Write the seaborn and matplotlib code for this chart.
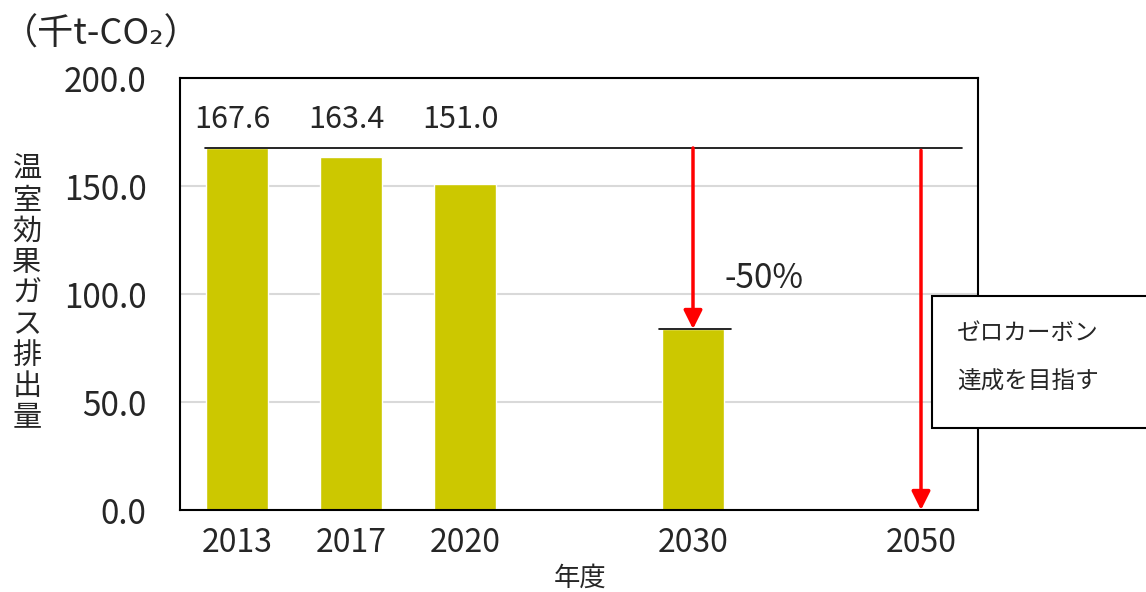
import matplotlib
matplotlib.use("Agg")
import matplotlib.pyplot as plt
from matplotlib.patches import Rectangle
import seaborn as sns
import pandas as pd

# データ
years = ["2013", "2017", "2020", "2030"]
emissions = [167.6, 163.4, 151.0, 83.8]
slots = ["2013", "2017", "2020", " ", "2030", "  ", "2050"]
value_labels = ["167.6", "163.4", "151.0"]
yticks = [0, 50, 100, 150, 200]

bar_color = "#CCC800"

sns.set_style("white")
plt.rcParams["font.family"] = ["Noto Sans CJK JP", "DejaVu Sans"]

df = pd.DataFrame({"year": years, "value": emissions})

fig = plt.figure(figsize=(11.46, 5.92), dpi=100)
ax = fig.add_axes([180 / 1146, 1 - 510 / 592, 798 / 1146, 432 / 592])

sns.barplot(data=df, x="year", y="value", order=slots, color=bar_color,
            saturation=1, width=0.54, ax=ax)

ax.set_xlim(-0.5, 6.5)
ax.set_ylim(0, 200)
ax.set_yticks(yticks)
ax.set_yticklabels([f"{v:.1f}" for v in yticks], fontsize=24)
ax.set_xticks(range(len(slots)))
ax.set_xticklabels([s.strip() for s in slots], fontsize=23)
ax.set_xticks([i + 0.5 for i in range(6)], minor=True)
ax.tick_params(axis="x", which="major", length=0, pad=12)
ax.tick_params(axis="x", which="minor", direction="in", length=9, width=1.3, color="black")
ax.tick_params(axis="y", length=0, pad=24)
ax.set_xlabel("")
ax.set_ylabel("")

ax.yaxis.grid(True, color="#D9D9D9", lw=1.5)
ax.set_axisbelow(True)
for sp in ax.spines.values():
    sp.set_visible(True)
    sp.set_color("black")
    sp.set_linewidth(1.5)

# 値ラベル
for i, lab in enumerate(value_labels):
    ax.text(i - 0.04, 181, lab, ha="center", va="center", fontsize=22)

# 基準線
ax.plot([-0.28, 6.36], [emissions[0], emissions[0]], color="black", lw=1.2, clip_on=False)
ax.plot([3.7, 4.33], [emissions[3], emissions[3]], color="black", lw=1.2)

# 矢印
arrow = dict(arrowstyle="-|>", color="red", lw=2.5, mutation_scale=28, shrinkA=0, shrinkB=0)
ax.annotate("", xy=(4, emissions[3]), xytext=(4, emissions[0]), arrowprops=arrow)
ax.annotate("", xy=(6, 0), xytext=(6, 166.5), arrowprops=arrow)
ax.text(4.28, 107, "-50%", ha="left", va="center", fontsize=24)

# 吹き出し
fig.patches.append(Rectangle((932 / 1146, 1 - 428 / 592), 0.25, 132 / 592,
                             transform=fig.transFigure, facecolor="white",
                             edgecolor="black", lw=1.5, zorder=5))
fig.text(957 / 1146, 1 - 333 / 592, "ゼロカーボン", fontsize=17, va="center", zorder=6)
fig.text(957 / 1146, 1 - 382 / 592, "達成を目指す", fontsize=17, va="center", zorder=6)

# 軸ラベル
ylabel = "温室効果ガス排出量"
for k, ch in enumerate(ylabel):
    fig.text(27 / 1146, 1 - (170 + k * 31) / 592, ch, fontsize=21, ha="center", va="center")
fig.text(2 / 1146, 1 - 35 / 592, "（千t-CO₂）", fontsize=26, ha="left", va="center")
fig.text(580 / 1146, 1 - 578 / 592, "年度", fontsize=19, ha="center", va="center")

fig.savefig("out.png", dpi=100)
